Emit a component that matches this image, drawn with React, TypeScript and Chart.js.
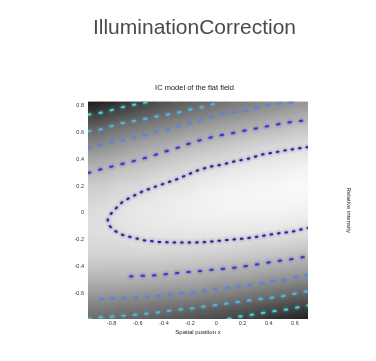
import React, { useEffect, useRef } from 'react';
import { Chart, registerables } from 'chart.js';

Chart.register(...registerables);

const TITLE = 'IlluminationCorrection';
const SUBTITLE = 'IC model of the flat field';
const X_LABEL = 'Spatial position x';
const RIGHT_LABEL = 'Relative intensity';

const X_MIN = -0.98;
const X_MAX = 0.7;
const Y_MIN = -0.79;
const Y_MAX = 0.83;

const X_TICKS = [-0.8, -0.6, -0.4, -0.2, 0, 0.2, 0.4, 0.6];
const X_TICK_LABELS = ['-0.8', '-0.6', '-0.4', '-0.2', '0', '0.2', '0.4', '0.6'];
const Y_TICKS = [0.8, 0.6, 0.4, 0.2, 0, -0.2, -0.4, -0.6];
const Y_TICK_LABELS = ['0.8', '0.6', '0.4', '0.2', '0', '-0.2', '-0.4', '-0.6'];

// heat-map columns (x centres) and sample rows (y, top to bottom)
const COLUMN_X = [-0.9275, -0.8225, -0.7175, -0.6125, -0.5075, -0.4025, -0.2975, -0.1925,
  -0.0875, 0.0175, 0.1225, 0.2275, 0.3325, 0.4375, 0.5425, 0.6475];
const ROW_Y = [0.83, 0.668, 0.506, 0.344, 0.182, 0.02, -0.142, -0.304, -0.466, -0.628, -0.79];

// grey level (0 black .. 1 white) of each column, sampled at ROW_Y
const SHADE = [
  [0.09, 0.34, 0.54, 0.70, 0.81, 0.86, 0.87, 0.83, 0.73, 0.58, 0.40],
  [0.13, 0.38, 0.57, 0.72, 0.83, 0.88, 0.88, 0.83, 0.73, 0.58, 0.39],
  [0.17, 0.41, 0.60, 0.75, 0.85, 0.89, 0.89, 0.83, 0.73, 0.57, 0.37],
  [0.22, 0.44, 0.63, 0.77, 0.86, 0.91, 0.90, 0.84, 0.72, 0.56, 0.36],
  [0.25, 0.47, 0.66, 0.79, 0.88, 0.92, 0.90, 0.84, 0.72, 0.55, 0.35],
  [0.29, 0.50, 0.68, 0.81, 0.90, 0.93, 0.91, 0.84, 0.71, 0.54, 0.33],
  [0.32, 0.53, 0.71, 0.83, 0.91, 0.94, 0.91, 0.83, 0.71, 0.53, 0.32],
  [0.35, 0.56, 0.73, 0.85, 0.92, 0.95, 0.91, 0.83, 0.70, 0.52, 0.30],
  [0.38, 0.59, 0.75, 0.87, 0.94, 0.95, 0.91, 0.82, 0.69, 0.50, 0.28],
  [0.41, 0.61, 0.77, 0.88, 0.95, 0.96, 0.91, 0.82, 0.67, 0.49, 0.26],
  [0.44, 0.63, 0.79, 0.90, 0.96, 0.96, 0.91, 0.81, 0.66, 0.47, 0.24],
  [0.46, 0.66, 0.81, 0.91, 0.96, 0.96, 0.91, 0.80, 0.65, 0.45, 0.22],
  [0.49, 0.68, 0.83, 0.92, 0.97, 0.96, 0.90, 0.79, 0.63, 0.43, 0.20],
  [0.51, 0.70, 0.84, 0.93, 0.97, 0.96, 0.90, 0.78, 0.61, 0.41, 0.17],
  [0.53, 0.72, 0.86, 0.94, 0.98, 0.96, 0.89, 0.77, 0.60, 0.39, 0.15],
  [0.56, 0.74, 0.87, 0.95, 0.98, 0.95, 0.88, 0.75, 0.58, 0.36, 0.12],
];

// contour lines, innermost (level 1) to outermost (level 5)
const CONTOUR_1 = [
  [0.7, 0.491], [0.652, 0.484], [0.535, 0.467], [0.448, 0.452], [0.346, 0.434], [0.244, 0.404],
  [0.143, 0.385], [0.041, 0.359], [-0.061, 0.342], [-0.155, 0.312], [-0.308, 0.248], [-0.436, 0.206],
  [-0.562, 0.161], [-0.665, 0.111], [-0.715, 0.084], [-0.766, 0.035], [-0.812, -0.015], [-0.83, -0.053],
  [-0.822, -0.09], [-0.779, -0.132], [-0.715, -0.164], [-0.639, -0.184], [-0.55, -0.204], [-0.41, -0.219],
  [-0.262, -0.22], [-0.104, -0.219], [0.079, -0.202], [0.232, -0.189], [0.358, -0.17], [0.473, -0.152],
  [0.578, -0.14], [0.652, -0.122], [0.7, -0.112],
];
const CONTOUR_2_UPPER = [
  [-0.98, 0.297], [-0.894, 0.322], [-0.791, 0.347], [-0.69, 0.372], [-0.588, 0.397], [-0.486, 0.426],
  [-0.384, 0.459], [-0.283, 0.489], [-0.18, 0.526], [-0.061, 0.558], [0.028, 0.578], [0.104, 0.59],
  [0.181, 0.608], [0.257, 0.62], [0.346, 0.638], [0.435, 0.653], [0.524, 0.67], [0.614, 0.683], [0.7, 0.692],
];
const CONTOUR_2_LOWER = [
  [-0.659, -0.473], [-0.613, -0.47], [-0.476, -0.466], [-0.295, -0.447], [-0.117, -0.432], [0.028, -0.418],
  [0.127, -0.41], [0.28, -0.388], [0.387, -0.371], [0.486, -0.356], [0.585, -0.343], [0.677, -0.326], [0.7, -0.321],
];
const CONTOUR_3_UPPER = [
  [-0.98, 0.48], [-0.881, 0.508], [-0.791, 0.526], [-0.665, 0.553], [-0.55, 0.578], [-0.448, 0.608],
  [-0.346, 0.627], [-0.245, 0.657], [-0.163, 0.683], [-0.01, 0.72], [0.066, 0.739], [0.143, 0.752],
  [0.232, 0.764], [0.308, 0.782], [0.395, 0.804], [0.517, 0.819], [0.639, 0.83],
];
const CONTOUR_3_LOWER = [
  [-0.888, -0.641], [-0.715, -0.631], [-0.486, -0.624], [-0.323, -0.604], [-0.171, -0.594], [-0.025, -0.567],
  [0.143, -0.552], [0.219, -0.544], [0.318, -0.529], [0.425, -0.507], [0.524, -0.5], [0.616, -0.477], [0.7, -0.462],
];
const CONTOUR_4_UPPER = [
  [-0.98, 0.607], [-0.894, 0.62], [-0.804, 0.645], [-0.715, 0.67], [-0.613, 0.687], [-0.512, 0.707],
  [-0.41, 0.727], [-0.308, 0.744], [-0.206, 0.769], [-0.079, 0.794], [0.043, 0.83],
];
const CONTOUR_4_LOWER = [
  [-0.98, -0.79], [-0.894, -0.777], [-0.774, -0.771], [-0.639, -0.76], [-0.476, -0.745], [-0.323, -0.723],
  [-0.18, -0.71], [-0.066, -0.693], [0.117, -0.671], [0.28, -0.648], [0.387, -0.634], [0.486, -0.624],
  [0.585, -0.604], [0.677, -0.587], [0.7, -0.581],
];
const CONTOUR_5_UPPER = [
  [-0.98, 0.732], [-0.894, 0.744], [-0.817, 0.761], [-0.741, 0.782], [-0.652, 0.802], [-0.562, 0.819], [-0.507, 0.83],
];
const CONTOUR_5_LOWER = [
  [0.089, -0.79], [0.156, -0.775], [0.257, -0.76], [0.41, -0.736], [0.561, -0.716], [0.652, -0.698], [0.7, -0.689],
];

const CONTOUR_COLORS = ['#24249c', '#3838cc', '#5a80e0', '#55b4e0', '#44d4d4'];

const gray = (v: number) => {
  const c = Math.round(Math.max(0, Math.min(1, v)) * 255);
  return `rgb(${c},${c},${c})`;
};

const lineSet = (pts: number[][], color: string, dash: number[]) => ({
  type: 'line' as const,
  data: pts.map(([x, y]) => ({ x, y })),
  borderColor: color,
  borderWidth: 2,
  borderDash: dash,
  borderCapStyle: 'round' as const,
  pointRadius: 0,
  fill: false,
  tension: 0,
  order: 0,
});

const DOTS_INNER = [1.5, 6];
const DOTS_OUTER = [2.5, 9];

// smooth shading of the heat-map (like interpolated shading) and soft glow on contours
const shadingPlugin = {
  id: 'shadingPlugin',
  beforeDatasetDraw(chart: any, args: any) {
    if (args.index === 0) return;
    const ctx = chart.ctx;
    ctx.save();
    ctx.shadowColor = chart.data.datasets[args.index].borderColor;
    ctx.shadowBlur = 3;
  },
  afterDatasetDraw(chart: any, args: any) {
    const ctx = chart.ctx;
    if (args.index !== 0) {
      ctx.restore();
      return;
    }
    const a = chart.chartArea;
    const w = a.right - a.left;
    const h = a.bottom - a.top;
    ctx.save();
    ctx.beginPath();
    ctx.rect(a.left, a.top, w, h);
    ctx.clip();
    ctx.filter = 'blur(6px)';
    ctx.drawImage(ctx.canvas, a.left, a.top, w, h, a.left, a.top, w, h);
    ctx.restore();
  },
};

export default function App() {
  const ref = useRef<HTMLCanvasElement | null>(null);

  useEffect(() => {
    if (!ref.current) return;
    const chart = new Chart(ref.current, {
      type: 'bar',
      data: {
        datasets: [
          {
            type: 'bar',
            data: COLUMN_X.map((x) => ({ x, y: [Y_MIN, Y_MAX] })),
            backgroundColor: (c: any) => {
              if (c.dataIndex === undefined || !c.chart.chartArea) return '#999';
              const col = SHADE[c.dataIndex];
              const ys = c.chart.scales.y;
              const top = ys.getPixelForValue(ROW_Y[0]);
              const bot = ys.getPixelForValue(ROW_Y[ROW_Y.length - 1]);
              const g = c.chart.ctx.createLinearGradient(0, top, 0, bot);
              ROW_Y.forEach((r, j) => {
                const p = (ys.getPixelForValue(r) - top) / (bot - top);
                g.addColorStop(Math.max(0, Math.min(1, p)), gray(col[j]));
              });
              return g;
            },
            borderWidth: 0,
            barPercentage: 1.06,
            categoryPercentage: 1,
            order: 10,
          } as any,
          lineSet(CONTOUR_1, CONTOUR_COLORS[0], DOTS_INNER),
          lineSet(CONTOUR_2_UPPER, CONTOUR_COLORS[1], DOTS_OUTER),
          lineSet(CONTOUR_2_LOWER, CONTOUR_COLORS[1], DOTS_OUTER),
          lineSet(CONTOUR_3_UPPER, CONTOUR_COLORS[2], DOTS_OUTER),
          lineSet(CONTOUR_3_LOWER, CONTOUR_COLORS[2], DOTS_OUTER),
          lineSet(CONTOUR_4_UPPER, CONTOUR_COLORS[3], DOTS_OUTER),
          lineSet(CONTOUR_4_LOWER, CONTOUR_COLORS[3], DOTS_OUTER),
          lineSet(CONTOUR_5_UPPER, CONTOUR_COLORS[4], DOTS_OUTER),
          lineSet(CONTOUR_5_LOWER, CONTOUR_COLORS[4], DOTS_OUTER),
        ],
      },
      options: {
        animation: false,
        responsive: false,
        maintainAspectRatio: false,
        layout: { padding: { left: 13, right: 0, top: 0, bottom: 0 } },
        plugins: {
          legend: { display: false },
          tooltip: { enabled: false },
          title: {
            display: true,
            text: TITLE,
            color: '#4a4a4a',
            font: { family: 'Liberation Sans', size: 21, weight: 'normal' },
            padding: { top: 15.4, bottom: 0 },
          },
          subtitle: {
            display: true,
            text: SUBTITLE,
            color: '#222',
            font: { family: 'Liberation Sans', size: 7.5, weight: 'normal' },
            padding: { top: 43.2, bottom: 8.7 },
          },
        },
        scales: {
          x: {
            type: 'linear',
            min: X_MIN,
            max: X_MAX,
            offset: false,
            grid: { display: false, drawTicks: false },
            border: { display: false },
            afterBuildTicks: (s: any) => { s.ticks = X_TICKS.map((v) => ({ value: v })); },
            afterFit: (s: any) => { s.height = 42; },
            ticks: {
              autoSkip: false,
              maxRotation: 0,
              padding: 1,
              color: '#333',
              font: { family: 'Liberation Sans', size: 5.5 },
              callback: (_v: any, i: number) => X_TICK_LABELS[i],
            },
            title: {
              display: true,
              text: X_LABEL,
              color: '#222',
              font: { family: 'Liberation Sans', size: 6 },
              padding: { top: 0, bottom: 25.4 },
            },
          },
          y: {
            type: 'linear',
            position: 'left',
            min: Y_MIN,
            max: Y_MAX,
            grid: { display: false, drawTicks: false },
            border: { display: false },
            afterBuildTicks: (s: any) => { s.ticks = Y_TICKS.map((v) => ({ value: v })); },
            afterFit: (s: any) => { s.width = 75; },
            ticks: {
              autoSkip: false,
              padding: 4,
              color: '#333',
              font: { family: 'Liberation Sans', size: 5.5 },
              callback: (_v: any, i: number) => Y_TICK_LABELS[i],
            },
          },
          y2: {
            type: 'linear',
            position: 'right',
            min: Y_MIN,
            max: Y_MAX,
            grid: { display: false, drawTicks: false },
            border: { display: false },
            ticks: { display: false },
            afterFit: (s: any) => { s.width = 68; },
            title: {
              display: true,
              text: RIGHT_LABEL,
              color: '#222',
              font: { family: 'Liberation Sans', size: 6 },
              padding: { top: 23.4, bottom: 0 },
            },
          },
        },
      } as any,
      plugins: [shadingPlugin],
    });
    return () => chart.destroy();
  }, []);

  return (
    <div style={{ position: 'absolute', left: 0, top: 0, width: 376, height: 361, background: '#fff' }}>
      <canvas ref={ref} width={376} height={361} style={{ display: 'block', width: 376, height: 361 }} />
    </div>
  );
}
